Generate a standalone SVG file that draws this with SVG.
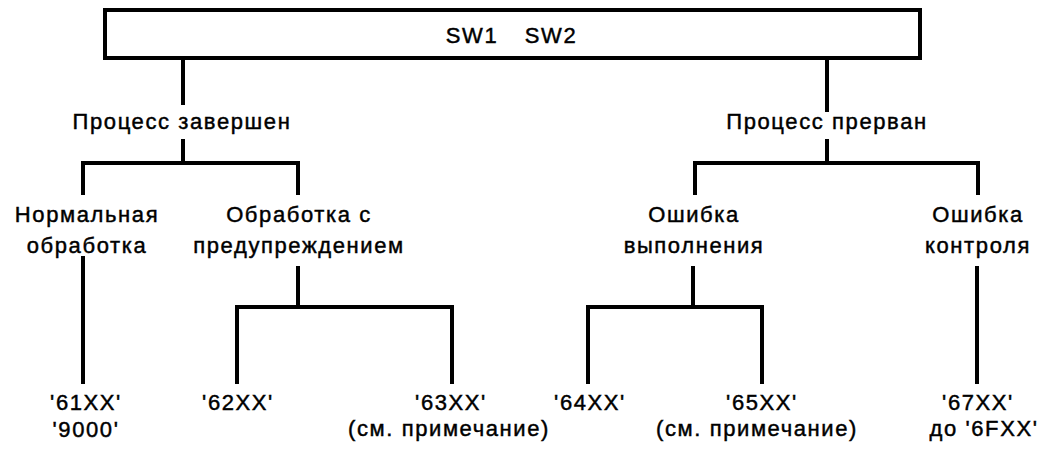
<svg xmlns="http://www.w3.org/2000/svg" width="1040" height="449" viewBox="0 0 1040 449">
<style>
text{font-family:"Liberation Sans",Arial,sans-serif;font-size:22px;letter-spacing:1.6px;fill:#000;stroke:#000;stroke-width:0.45;text-anchor:middle}
.ln{stroke:#000;stroke-width:4;fill:none;stroke-linecap:square}
</style>
<rect x="0" y="0" width="1040" height="449" fill="#fff"/>
<g id="root"><rect x="105" y="10" width="815" height="48" fill="#fff" stroke="#000" stroke-width="4"/><text x="472" y="43">SW1</text><text x="551" y="43">SW2</text></g>
<g id="done"><text x="182" y="129">Процесс завершен</text></g>
<g id="aborted"><text x="827" y="129">Процесс прерван</text></g>
<g id="normal"><text x="87" y="222">Нормальная</text><text x="87" y="253">обработка</text></g>
<g id="warn"><text x="299" y="222">Обработка с</text><text x="299" y="253">предупреждением</text></g>
<g id="exec"><text x="694" y="222">Ошибка</text><text x="694" y="253">выполнения</text></g>
<g id="check"><text x="978" y="222">Ошибка</text><text x="978" y="253">контроля</text></g>
<g id="c61"><text x="86" y="410">'61XX'</text><text x="86" y="437">'9000'</text></g>
<g id="c62"><text x="238" y="410">'62XX'</text></g>
<g id="c63"><text x="451" y="410">'63XX'</text><text x="449" y="436">(см. примечание)</text></g>
<g id="c64"><text x="590" y="410">'64XX'</text></g>
<g id="c65"><text x="762" y="410">'65XX'</text><text x="757" y="436">(см. примечание)</text></g>
<g id="c67"><text x="978" y="410">'67XX'</text><text x="984" y="436">до '6FXX'</text></g>
<g id="connectors" class="ln">
<path d="M183 60V103M183 141V163M83 163H298M83 163V193M298 163V193"/>
<path d="M827 60V110M827 141V163M695 163H978M695 163V193M978 163V193"/>
<path d="M83 258V382"/>
<path d="M298 268V307M237 307H452M237 307V382M452 307V382"/>
<path d="M693 268V307M588 307H762M588 307V382M762 307V382"/>
<path d="M977 268V382"/>
</g>
</svg>
